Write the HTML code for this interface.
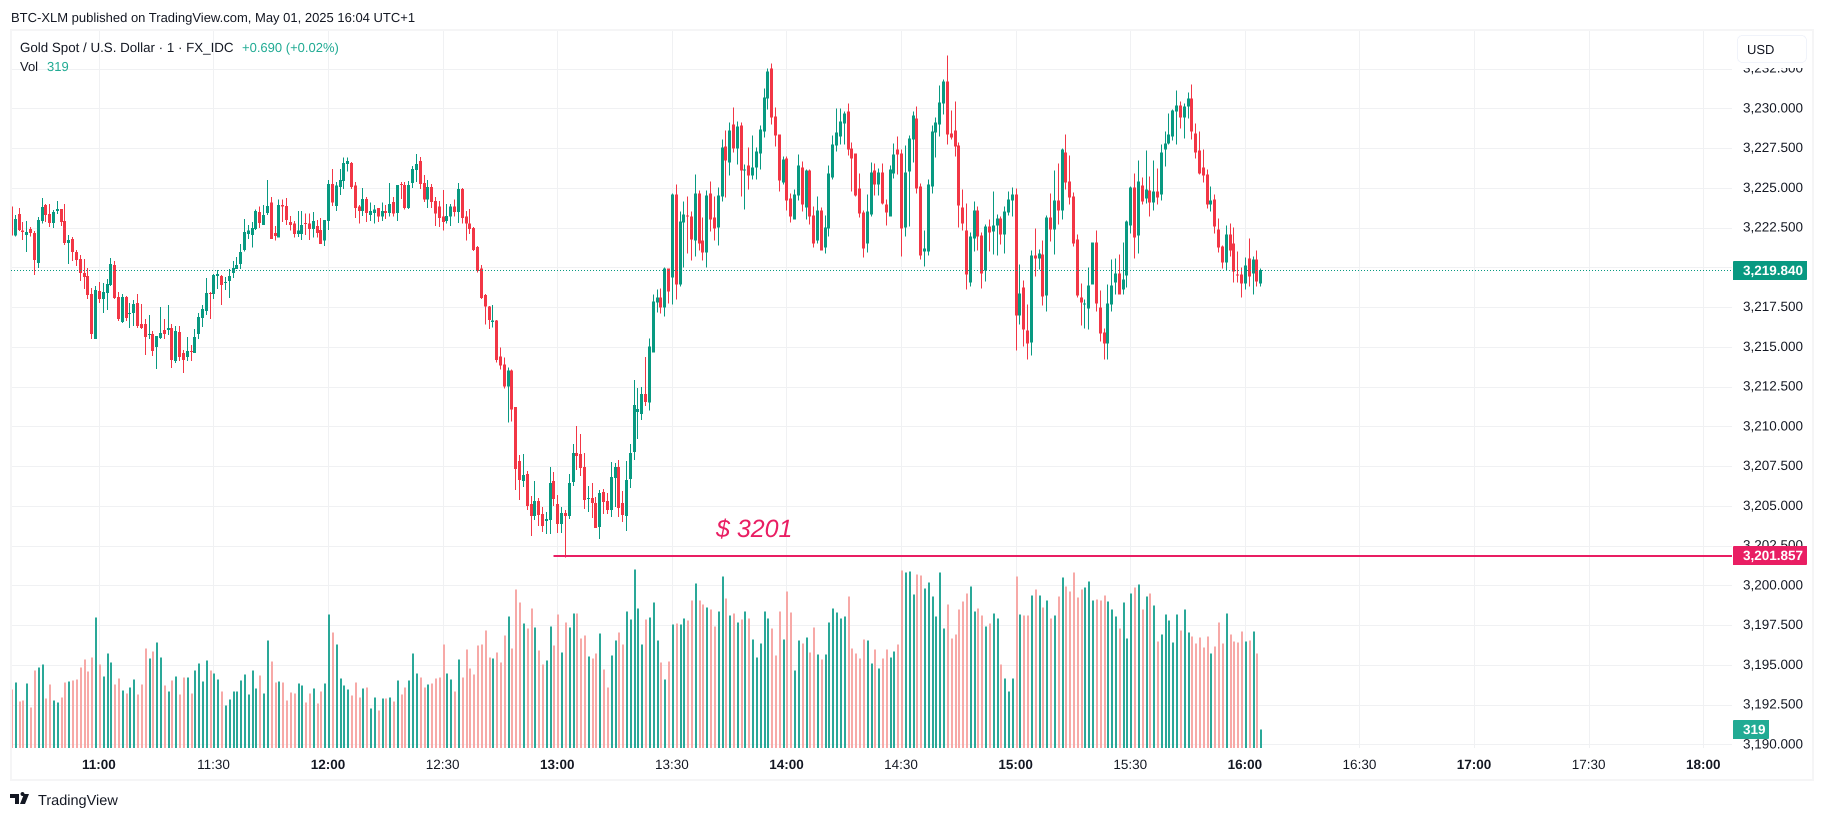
<!DOCTYPE html>
<html>
<head>
<meta charset="utf-8">
<title>Gold Spot / U.S. Dollar chart</title>
<style>
html,body{margin:0;padding:0;background:#fff;width:1824px;height:819px;overflow:hidden}
svg{display:block;font-family:"Liberation Sans",sans-serif}
</style>
</head>
<body>
<svg id="chart" xmlns="http://www.w3.org/2000/svg" width="1824" height="819" viewBox="0 0 1824 819" shape-rendering="crispEdges">
  <defs><clipPath id="pane-clip"><rect x="11" y="30" width="1721" height="718"/></clipPath></defs>
  <text x="11" y="22" font-size="13" fill="#131722" text-rendering="geometricPrecision">BTC-XLM published on TradingView.com, May 01, 2025 16:04 UTC+1</text>
  <g id="grid"></g>
  <g id="volumes" clip-path="url(#pane-clip)"></g>
  <g id="candles" clip-path="url(#pane-clip)"></g>
  <g id="price-axis"></g>
  <g id="time-axis"></g>
  <rect x="11" y="30" width="1802" height="750" fill="none" stroke="#f5f5f6" stroke-width="2"/>
  <g id="overlays"></g>
  <rect x="1733" y="32" width="78" height="36" fill="#fff"/>
  <rect x="1737.5" y="35.5" width="69" height="27" rx="5" fill="#fff" stroke="#f0f3fa" stroke-width="1"/>
  <text x="1747" y="54" font-size="13" fill="#131722" text-rendering="geometricPrecision">USD</text>
  <text x="20" y="52" font-size="13.35" fill="#131722" text-rendering="geometricPrecision">Gold Spot / U.S. Dollar · 1 · FX_IDC</text>
  <text x="242" y="52" font-size="13" fill="#22ab94" text-rendering="geometricPrecision">+0.690 (+0.02%)</text>
  <text x="20" y="71" font-size="13" fill="#131722" text-rendering="geometricPrecision">Vol</text>
  <text x="47" y="71" font-size="13" fill="#22ab94" text-rendering="geometricPrecision">319</text>
  <g>
    <path d="M10 794h9v10h-4v-6h-5zM20.5 794a2 2 0 1 1 0 .01zM24 794h5l-4 10h-5z" fill="#131722" shape-rendering="auto"/>
    <text x="38" y="805" font-size="14.5" fill="#131722" text-rendering="geometricPrecision">TradingView</text>
  </g>
</svg>
<script>
const firstBarMinute = 637;
const priceTicks = [3232.5,3230,3227.5,3225,3222.5,3220,3217.5,3215,3212.5,3210,3207.5,3205,3202.5,3200,3197.5,3195,3192.5,3190];
const timeTicks = ["11:00","11:30","12:00","12:30","13:00","13:30","14:00","14:30","15:00","15:30","16:00","16:30","17:00","17:30","18:00"];
const lastPrice = 3219.84;
const supportPrice = 3201.857;
const supportStartBar = 142;
const supportLabel = "$ 3201";
const lastVolume = 319;
const opens = [
3223.81,3221.99,3223.35,3222.31,3222.03,3222.41,3222.16,3220.27,3222.91,3223.92,
3223.35,3222.79,3223.54,3223.67,3222.91,3221.53,3221.78,3220.96,3220.52,3219.64,
3219.46,3218.32,3215.49,3218.51,3218.01,3218.39,3218.89,3220.15,3218.13,3216.56,
3218.13,3217.07,3217.13,3217.76,3216.44,3216.44,3215.75,3215.81,3214.99,3215.56,
3216.06,3216.06,3216.19,3214.11,3215.93,3214.61,3214.36,3214.74,3214.61,3215.81,
3216.81,3217.25,3218.39,3218.32,3219.46,3219.46,3219.01,3219.14,3219.64,3219.90,
3220.21,3221.10,3222.11,3222.04,3222.40,3223.49,3222.67,3223.43,3224.06,3222.17,
3221.86,3223.93,3223.87,3222.86,3222.74,3222.11,3222.11,3222.80,3222.74,3222.42,
3222.61,3222.36,3221.67,3222.92,3225.25,3223.87,3225.06,3225.44,3226.51,3226.57,
3225.13,3223.81,3223.55,3224.31,3223.30,3223.43,3223.74,3223.18,3223.55,3223.43,
3224.12,3223.43,3225.25,3225.19,3223.74,3225.31,3226.13,3226.70,3225.31,3224.25,
3225.06,3224.18,3223.81,3223.18,3222.92,3223.18,3223.81,3223.49,3224.94,3223.18,
3222.74,3222.48,3221.29,3219.91,3218.27,3217.52,3216.57,3216.64,3214.39,3213.89,
3212.51,3213.51,3211.20,3207.81,3206.55,3206.99,3205.10,3204.35,3205.29,3204.48,
3204.04,3204.10,3206.55,3205.10,3203.85,3204.54,3204.35,3206.49,3208.31,3208.25,
3207.43,3205.42,3205.48,3205.17,3203.66,3205.86,3205.29,3204.73,3206.74,3207.43,
3205.17,3204.35,3206.68,3208.37,3210.89,3210.76,3212.02,3211.50,3214.64,3217.79,
3218.10,3217.47,3219.93,3219.36,3224.58,3218.92,3222.82,3223.26,3223.20,3221.69,
3224.64,3221.69,3220.93,3224.64,3223.13,3222.51,3224.46,3227.60,3226.59,3228.98,
3227.47,3228.92,3226.09,3226.40,3225.78,3226.28,3227.16,3228.54,3230.62,3232.50,
3229.49,3228.35,3225.34,3226.84,3224.33,3223.01,3224.52,3226.28,3223.76,3226.09,
3223.26,3221.69,3223.57,3221.25,3222.44,3225.65,3227.66,3228.23,3229.05,3229.80,
3227.47,3227.16,3224.96,3223.45,3221.50,3223.32,3226.09,3225.21,3225.96,3223.95,
3223.20,3225.90,3227.41,3227.16,3222.51,3226.03,3228.04,3229.36,3225.08,3221.00,
3221.00,3225.08,3228.48,3228.98,3230.30,3231.69,3228.42,3228.61,3227.66,3223.76,
3222.32,3219.05,3221.81,3223.57,3222.00,3219.80,3222.57,3222.25,3222.63,3223.07,
3222.07,3223.45,3224.20,3224.58,3216.97,3218.73,3216.03,3215.27,3220.75,3220.56,
3220.81,3218.23,3223.13,3222.38,3224.20,3223.57,3227.22,3225.40,3224.46,3221.75,
3218.10,3217.66,3217.41,3218.92,3221.56,3217.48,3215.90,3215.21,3217.66,3219.05,
3219.61,3218.61,3219.49,3222.63,3225.02,3222.00,3225.15,3224.33,3224.83,3224.08,
3224.77,3224.58,3227.41,3227.79,3228.23,3229.80,3230.18,3229.42,3230.11,3230.62,
3228.42,3227.35,3226.28,3225.84,3223.95,3224.27,3222.38,3221.31,3220.30,3222.07,
3221.50,3219.55,3219.55,3218.98,3220.56,3219.61,3220.49,3218.98];
const highs = [
3224.34,3223.29,3223.73,3222.85,3222.91,3222.54,3222.28,3223.16,3224.36,3223.98,
3223.98,3223.61,3224.17,3223.67,3223.98,3222.03,3221.91,3221.09,3220.78,3220.52,
3219.96,3218.70,3218.83,3219.08,3219.01,3219.27,3220.59,3220.40,3218.45,3218.32,
3218.20,3217.76,3217.95,3218.32,3217.69,3216.75,3217.00,3216.00,3215.68,3217.51,
3216.75,3217.63,3216.44,3216.31,3216.31,3214.80,3215.62,3215.12,3216.12,3217.13,
3217.63,3219.33,3218.45,3219.58,3219.83,3219.52,3219.39,3219.90,3220.40,3220.65,
3221.47,3223.05,3222.67,3222.86,3223.62,3223.81,3223.93,3225.50,3224.43,3222.61,
3224.25,3224.25,3224.37,3223.24,3222.92,3223.55,3223.55,3223.37,3223.37,3223.49,
3222.99,3223.11,3222.99,3225.50,3226.19,3225.38,3226.19,3226.89,3226.89,3226.63,
3225.38,3223.93,3225.00,3224.43,3224.06,3223.93,3223.74,3224.06,3223.93,3225.31,
3224.43,3225.19,3225.38,3225.38,3225.44,3226.38,3227.14,3226.95,3225.82,3225.50,
3225.25,3224.43,3224.18,3224.87,3223.99,3223.99,3224.25,3225.31,3225.00,3223.55,
3223.68,3222.55,3221.35,3220.16,3218.33,3217.58,3217.64,3216.70,3214.96,3214.33,
3213.70,3213.57,3211.20,3208.19,3208.25,3207.18,3205.61,3206.55,3205.48,3204.92,
3204.60,3207.43,3207.12,3205.67,3204.92,3204.73,3206.99,3208.88,3210.01,3209.51,
3208.31,3206.24,3206.43,3205.54,3205.99,3206.05,3205.80,3207.75,3207.68,3207.87,
3205.92,3207.81,3208.88,3212.90,3212.40,3212.46,3214.35,3215.52,3218.29,3218.61,
3218.67,3219.99,3219.93,3224.64,3225.21,3223.51,3224.14,3224.46,3223.51,3225.84,
3224.83,3223.13,3224.83,3225.40,3224.46,3225.02,3228.04,3228.61,3229.11,3230.05,
3229.17,3229.11,3226.47,3227.54,3228.29,3227.54,3228.92,3231.25,3232.50,3232.82,
3230.05,3228.35,3226.97,3226.97,3224.64,3224.90,3227.10,3226.66,3226.15,3226.15,
3223.83,3224.46,3223.76,3223.26,3226.40,3228.29,3229.99,3229.99,3229.80,3230.30,
3227.85,3227.16,3225.90,3223.57,3224.58,3226.59,3226.53,3226.22,3226.53,3224.27,
3226.40,3227.79,3228.23,3227.41,3227.66,3228.29,3229.80,3230.11,3225.27,3222.32,
3225.52,3228.92,3229.42,3231.43,3231.81,3233.32,3229.86,3230.43,3227.85,3224.90,
3224.01,3222.19,3224.14,3223.83,3222.19,3222.69,3223.01,3224.77,3223.32,3223.20,
3223.83,3224.77,3225.02,3224.96,3220.18,3219.17,3217.66,3221.06,3222.44,3221.12,
3221.69,3223.26,3224.64,3226.09,3226.53,3227.47,3228.35,3227.03,3224.71,3222.07,
3218.98,3217.98,3219.99,3221.56,3222.32,3218.54,3216.15,3218.92,3220.49,3220.56,
3220.81,3221.56,3222.95,3225.08,3225.90,3226.72,3225.65,3227.35,3225.71,3226.72,
3226.22,3227.72,3228.54,3229.67,3229.93,3231.12,3230.43,3230.30,3231.00,3231.50,
3229.05,3228.54,3227.41,3226.15,3225.08,3224.58,3223.07,3221.37,3222.63,3222.76,
3222.51,3221.00,3219.99,3220.62,3221.81,3220.68,3221.06,3219.93];
const lows = [
3221.95,3221.93,3222.28,3221.72,3220.96,3221.93,3219.52,3219.96,3222.77,3222.85,
3222.54,3222.47,3223.35,3222.60,3221.40,3220.21,3220.40,3220.08,3219.14,3218.64,
3218.01,3215.49,3215.49,3217.76,3217.13,3217.32,3218.83,3218.01,3216.63,3216.50,
3216.63,3216.19,3216.31,3216.19,3216.12,3214.49,3215.49,3214.42,3213.61,3215.49,
3215.49,3215.75,3213.67,3213.98,3214.11,3213.36,3214.11,3214.11,3214.61,3215.49,
3216.25,3217.00,3216.75,3218.01,3218.64,3217.63,3218.57,3218.07,3219.33,3219.90,
3219.90,3220.98,3221.79,3221.23,3222.36,3222.48,3222.67,3223.30,3221.79,3221.67,
3221.86,3222.86,3222.67,3222.30,3221.86,3221.92,3221.73,3222.04,3221.73,3221.86,
3221.86,3221.48,3221.35,3222.36,3223.87,3223.55,3224.56,3224.94,3226.01,3224.94,
3223.11,3222.74,3223.24,3222.86,3222.92,3222.74,3222.86,3222.92,3223.05,3223.18,
3223.18,3222.92,3224.31,3223.62,3223.68,3225.00,3225.38,3224.94,3224.12,3223.74,
3223.74,3222.61,3222.55,3222.30,3222.74,3222.61,3223.18,3222.80,3222.74,3221.67,
3222.11,3221.04,3219.66,3218.02,3216.39,3216.13,3216.20,3214.00,3213.57,3212.38,
3210.24,3210.30,3205.99,3205.36,3206.17,3204.73,3203.09,3204.10,3203.72,3203.34,
3203.22,3203.22,3204.98,3203.28,3203.28,3201.75,3204.16,3206.24,3207.24,3206.87,
3204.79,3204.60,3204.22,3203.60,3202.90,3204.48,3204.48,3204.29,3204.92,3204.29,
3203.97,3203.41,3206.11,3207.87,3209.19,3210.39,3211.27,3210.99,3214.64,3217.16,
3217.10,3216.91,3217.72,3217.66,3217.98,3218.80,3219.99,3220.87,3220.43,3220.68,
3221.06,3220.43,3219.99,3222.25,3221.69,3221.37,3224.14,3224.39,3225.78,3227.22,
3226.47,3224.46,3223.64,3224.90,3225.52,3225.52,3226.15,3228.16,3229.93,3228.98,
3227.60,3224.77,3225.21,3223.57,3222.82,3223.01,3224.20,3223.51,3223.01,3222.69,
3221.25,3221.50,3221.06,3220.87,3221.94,3225.52,3227.28,3227.72,3227.72,3227.03,
3224.77,3224.46,3223.13,3220.62,3220.93,3223.20,3224.52,3224.52,3223.95,3222.63,
3223.20,3225.59,3225.84,3220.68,3221.94,3222.57,3226.59,3224.64,3220.49,3220.05,
3220.75,3224.64,3226.91,3228.23,3229.61,3227.72,3228.04,3226.97,3222.51,3222.32,
3218.61,3218.80,3221.00,3221.06,3218.67,3219.11,3221.00,3220.81,3220.75,3221.44,
3220.87,3223.26,3223.20,3214.77,3216.41,3215.02,3214.20,3214.45,3219.42,3219.86,
3217.60,3217.22,3221.63,3220.81,3222.69,3223.01,3224.90,3223.95,3221.31,3218.10,
3216.34,3216.15,3216.09,3218.92,3217.22,3215.34,3214.20,3214.20,3217.22,3218.29,
3218.29,3218.29,3218.73,3222.13,3220.56,3220.87,3223.95,3224.01,3223.20,3223.57,
3223.95,3224.20,3226.34,3227.72,3227.98,3227.72,3228.73,3228.10,3229.36,3228.04,
3226.84,3225.84,3225.34,3223.70,3223.51,3222.13,3220.93,3219.93,3219.80,3220.68,
3219.05,3219.05,3218.10,3218.61,3218.80,3218.29,3218.80,3218.80];
const closes = [
3221.99,3223.04,3222.35,3222.22,3222.22,3222.16,3220.46,3222.98,3223.79,3223.29,
3222.79,3223.48,3223.67,3222.85,3221.53,3221.72,3220.96,3220.46,3219.64,3219.39,
3218.26,3215.81,3218.57,3218.01,3218.45,3218.95,3220.21,3218.07,3216.75,3218.13,
3216.81,3217.13,3217.69,3216.31,3216.19,3215.62,3215.81,3214.74,3215.68,3215.87,
3215.81,3216.19,3214.17,3216.00,3214.36,3214.17,3214.74,3214.68,3215.62,3216.88,
3217.38,3218.39,3218.32,3219.52,3219.58,3218.89,3219.08,3219.46,3219.96,3220.15,
3220.96,3222.23,3222.30,3222.48,3223.55,3222.80,3223.30,3223.87,3221.79,3221.98,
3223.93,3223.81,3222.99,3222.67,3222.11,3222.30,3222.67,3222.74,3222.42,3222.92,
3222.17,3221.48,3222.99,3225.25,3224.06,3225.13,3225.50,3226.57,3226.70,3225.06,
3223.74,3223.55,3224.31,3223.43,3223.55,3223.62,3223.18,3223.55,3223.43,3223.99,
3223.37,3225.19,3225.19,3223.74,3225.19,3226.19,3226.51,3225.25,3224.25,3225.06,
3224.12,3223.37,3223.11,3222.86,3223.24,3223.81,3223.49,3224.94,3223.11,3222.74,
3222.42,3221.10,3219.78,3218.08,3217.52,3216.70,3216.64,3214.18,3213.83,3212.51,
3213.51,3211.06,3207.31,3206.61,3206.93,3204.98,3204.35,3205.29,3204.41,3203.72,
3204.16,3206.43,3205.42,3203.85,3204.54,3204.35,3206.43,3208.31,3208.12,3207.37,
3205.36,3205.48,3205.17,3203.60,3205.80,3205.23,3204.73,3206.80,3207.43,3204.85,
3204.41,3206.61,3208.31,3211.33,3211.08,3212.02,3211.52,3215.02,3217.85,3218.10,
3217.47,3219.93,3218.48,3224.58,3218.92,3222.88,3223.32,3223.20,3221.75,3224.64,
3221.50,3220.93,3224.52,3223.01,3222.44,3224.52,3227.54,3226.72,3228.61,3227.47,
3228.86,3226.09,3226.15,3225.78,3226.28,3227.28,3228.67,3230.68,3232.32,3229.42,
3228.29,3225.46,3226.78,3224.20,3223.20,3224.58,3226.40,3223.95,3226.09,3223.20,
3221.50,3223.57,3221.06,3222.51,3225.90,3227.72,3228.48,3229.17,3229.67,3227.41,
3226.84,3224.52,3223.39,3221.19,3223.51,3225.96,3225.21,3225.96,3224.01,3223.45,
3226.15,3227.10,3227.10,3222.44,3225.96,3228.10,3229.55,3224.96,3220.75,3221.19,
3225.21,3228.54,3229.11,3230.37,3231.69,3228.35,3228.16,3227.60,3223.89,3222.76,
3219.55,3221.94,3223.57,3221.94,3219.61,3222.57,3222.19,3222.63,3223.07,3222.07,
3223.51,3224.27,3224.58,3216.97,3218.36,3216.09,3215.21,3220.75,3220.56,3220.87,
3218.17,3223.13,3222.38,3224.20,3223.57,3227.41,3225.34,3224.39,3221.50,3218.23,
3217.79,3217.73,3218.86,3221.56,3217.73,3215.84,3215.21,3217.73,3218.86,3219.61,
3218.29,3219.24,3222.88,3225.02,3221.88,3225.40,3224.14,3224.90,3224.08,3224.77,
3224.39,3227.22,3227.79,3228.35,3229.86,3230.18,3229.42,3230.11,3230.62,3228.54,
3227.22,3225.90,3225.78,3223.95,3224.20,3222.57,3221.25,3220.30,3222.07,3221.06,
3219.74,3219.49,3218.98,3220.12,3219.42,3220.49,3219.11,3219.84];
const volumes = [
1003,1123,798,815,1106,695,1328,1379,1431,849,1089,815,781,866,1123,1140,1157,1174,1379,1516,
1311,1550,2234,1431,1226,1619,1465,1089,1191,986,935,1037,1174,918,1089,1704,1533,1653,1807,1550,
1072,969,1157,1226,918,1208,1208,935,1328,1448,1140,1499,1328,1277,1174,969,730,832,969,969,
1157,1260,918,1328,1020,1243,935,1841,1482,1123,1140,1123,815,952,935,1106,1072,781,935,1020,
764,969,1106,2286,1978,1773,1191,1072,1003,901,1123,866,1020,1037,678,866,644,849,849,866,
798,1157,918,1037,1157,1619,1277,1208,1037,1089,1106,1191,1208,1773,1277,1174,969,1516,1208,1687,
1362,1260,1756,1773,2012,1550,1533,1636,1465,1927,2252,1704,2713,2491,2132,2046,2388,2063,1670,1431,
1499,2081,1756,2286,1636,2149,2063,2303,2303,1875,1927,1568,1533,1619,1961,1345,1037,1585,1841,1978,
1773,2337,2200,3055,2388,1773,2200,2234,2491,1841,1465,1174,1482,2115,2132,2115,2217,2183,2525,2816,
2525,2457,2405,2371,2081,2337,2936,2559,2269,2303,2149,2200,2337,2217,1858,1550,1790,2337,2217,2046,
1585,2337,1858,2679,2320,1328,1841,1790,1892,1636,2063,1602,1516,1602,2149,2388,2320,2217,2252,2594,
1704,1619,1533,1858,1841,1448,1687,1362,1533,1687,1550,1653,1773,3038,3004,3021,2628,2970,2953,2730,
2833,2594,2252,3004,2046,2457,1875,1944,2371,2508,2645,2765,2337,2388,2269,2081,2132,2303,2217,1431,
1191,969,1191,2936,2286,2269,2269,2611,2713,2611,2405,2525,2217,2269,2594,2918,2765,2679,3004,2576,
2713,2747,2850,2525,2542,2525,2611,2508,2371,2252,2046,2491,1875,2645,2747,2799,2371,2594,2645,2440,
1824,1944,2286,2183,1807,2286,2012,2371,1978,1910,1790,1892,1721,1910,1619,1739,2149,1790,2303,1944,
1824,1807,1995,1824,1841,1995,1619,319];

const SVGNS = "http://www.w3.org/2000/svg";
const GREEN = "#089981", RED = "#F23645", VOL_GREEN = "#2aa898", VOL_RED = "#f7a9a7", PINK = "#E91E63", VOL_LABEL = "#22ab94";

function xBar(i){ return 11 + 3.82 * i; }
function xTime(label){
  const p = label.split(":");
  return xBar(parseInt(p[0],10)*60 + parseInt(p[1],10) - firstBarMinute);
}
function yPrice(p){ return 108.3 + (3230 - p) * 15.9; }
function volHeight(v){ return v / 17.1; }
const VOL_BASE = 748;
function fmtPrice(p){
  const s = p.toFixed(3), parts = s.split(".");
  return parts[0].replace(/\B(?=(\d{3})+$)/g, ",") + "." + parts[1];
}
function mk(tag, attrs, parent){
  const el = document.createElementNS(SVGNS, tag);
  for (const k in attrs) el.setAttribute(k, attrs[k]);
  parent.appendChild(el);
  return el;
}

const gGrid = document.getElementById("grid");
const gVol = document.getElementById("volumes");
const gCandles = document.getElementById("candles");
const gPrice = document.getElementById("price-axis");
const gTime = document.getElementById("time-axis");
const gOver = document.getElementById("overlays");

priceTicks.forEach(function(p){
  const y = Math.round(yPrice(p));
  const line = mk("rect", {x:11, y:y, width:1721, height:1, fill:"#f0f1f3"}, gGrid);
  
  
  const t = mk("text", {x:1803, y:yPrice(p)+4, "text-anchor":"end", "font-size":13.5, fill:"#131722", "text-rendering":"geometricPrecision"}, gPrice);
  
  
  t.textContent = fmtPrice(p);
});

timeTicks.forEach(function(label){
  const x = Math.round(xTime(label));
  const line = mk("rect", {x:x, y:30, width:1, height:718, fill:"#f0f1f3"}, gGrid);
  
  
  const bold = label.slice(-2) === "00";
  const t = mk("text", {x:xTime(label), y:769, "text-anchor":"middle", "font-size":13.5, "font-weight":bold?"bold":"normal", fill:"#131722", "text-rendering":"geometricPrecision"}, gTime);
  
  
  t.textContent = label;
});

volumes.forEach(function(v, i){
  const up = closes[i] >= opens[i];
  const h = volHeight(v);
  const bar = mk("rect", {x:Math.round(xBar(i)), y:VOL_BASE-h, width:2, height:h, fill:up?VOL_GREEN:VOL_RED}, gVol);
  
  
});

closes.forEach(function(c, i){
  const o = opens[i], up = c >= o;
  const col = up ? GREEN : RED;
  const cx = Math.round(xBar(i));
  const g = mk("g", {}, gCandles);
  
  
  const top = yPrice(highs[i]), bot = yPrice(lows[i]);
  const wick = mk("rect", {x:cx, y:top, width:1, height:Math.max(1,bot-top), fill:col}, g);
  
  
  const bt = yPrice(Math.max(o,c)), bb = yPrice(Math.min(o,c));
  const body = mk("rect", {x:cx-1, y:bt, width:3, height:Math.max(1,bb-bt), fill:col}, g);
  
  
});

const dotted = mk("line", {x1:11, x2:1732, y1:Math.round(yPrice(lastPrice))+0.5, y2:Math.round(yPrice(lastPrice))+0.5, stroke:GREEN, "stroke-width":1, "stroke-dasharray":"1 2"}, gOver);



const sy = Math.round(yPrice(supportPrice));
const sLine = mk("rect", {x:xBar(supportStartBar), y:sy-1, width:1732-xBar(supportStartBar), height:2, fill:PINK}, gOver);


const sText = mk("text", {x:716, y:537, "font-size":25, "font-style":"italic", fill:PINK, "text-rendering":"geometricPrecision"}, gOver);


sText.textContent = supportLabel;

function axisTag(name, value, y, text, fill, w){
  const r = mk("rect", {x:1733, y:y-9.5, width:w, height:19, rx:1, fill:fill}, gOver);
  
  
  const t = mk("text", {x:1743, y:y+4.5, "font-size":13.5, "font-weight":"bold", fill:"#fff", "text-rendering":"geometricPrecision"}, gOver);
  
  
  t.textContent = text;
}
axisTag("last-price-tag", lastPrice, 270.5, fmtPrice(lastPrice), GREEN, 74);
axisTag("support-price-tag", supportPrice, 555.5, fmtPrice(supportPrice), PINK, 74);
axisTag("volume-tag", lastVolume, 729.5, String(lastVolume), VOL_LABEL, 36);
</script>
</body>
</html>
